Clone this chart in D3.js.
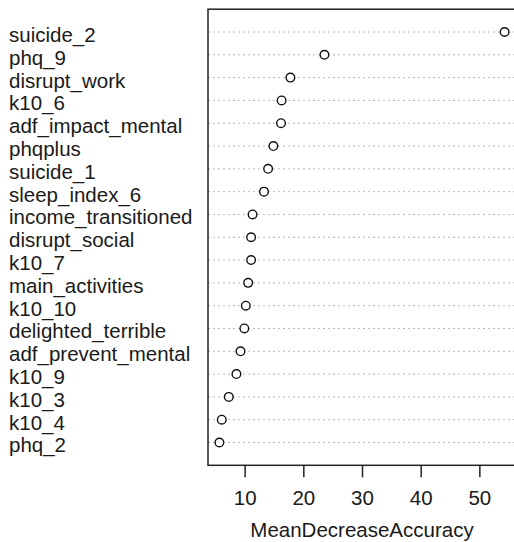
<!DOCTYPE html>
<html>
<head>
<meta charset="utf-8">
<script src="https://cdn.jsdelivr.net/npm/d3@7"></script>
<style>
  body { margin: 0; background: #fff; }
  svg { display: block; font-family: "Liberation Sans", Arial, sans-serif; }
</style>
</head>
<body>
<div id="chart"></div>
<script>
// variable names, top to bottom
const variables = [
  "suicide_2", "phq_9", "disrupt_work", "k10_6", "adf_impact_mental",
  "phqplus", "suicide_1", "sleep_index_6", "income_transitioned", "disrupt_social",
  "k10_7", "main_activities", "k10_10", "delighted_terrible", "adf_prevent_mental",
  "k10_9", "k10_3", "k10_4", "phq_2"
];
const accuracy = [
  54.3, 23.6, 17.8, 16.3, 16.2,
  14.9, 14.0, 13.3, 11.35, 11.1,
  11.1, 10.6, 10.2, 9.95, 9.3,
  8.6, 7.3, 6.1, 5.7
];
const xTicks = [10, 20, 30, 40, 50];
const xTitle = "MeanDecreaseAccuracy";

const width = 514, height = 542;
const plot = {left: 208, right: 516, top: 9.2, bottom: 465.3};
const fontSize = 20.5;

const svg = d3.select("#chart").append("svg")
  .attr("width", width)
  .attr("height", height);

// R dotchart: xlim extended 4%, ylim 0..n+1
const lo = d3.min(accuracy), hi = d3.max(accuracy);
const pad = (hi - lo) * 0.04;
const x = d3.scaleLinear().domain([lo - pad, hi + pad]).range([plot.left, plot.right]);
const n = variables.length;
const y = d3.scaleLinear().domain([0, n + 1]).range([plot.bottom, plot.top]);

const rows = variables.map((name, i) => ({name: name, value: accuracy[i], pos: n - i}));

// dotted guide lines
svg.append("g").selectAll("line")
  .data(rows)
  .join("line")
  .attr("x1", plot.left)
  .attr("x2", plot.right)
  .attr("y1", d => y(d.pos))
  .attr("y2", d => y(d.pos))
  .attr("stroke", "#b8b8b8")
  .attr("stroke-width", 1)
  .attr("stroke-dasharray", "2,3");

// points
svg.append("g").selectAll("circle")
  .data(rows)
  .join("circle")
  .attr("cx", d => x(d.value))
  .attr("cy", d => y(d.pos))
  .attr("r", 4.3)
  .attr("fill", "white")
  .attr("stroke", "#111")
  .attr("stroke-width", 1.4);

// labels
svg.append("g").selectAll("text")
  .data(rows)
  .join("text")
  .attr("x", 9)
  .attr("y", d => y(d.pos) + 10)
  .attr("font-size", fontSize)
  .attr("fill", "#1a1a1a")
  .text(d => d.name);

// box
svg.append("rect")
  .attr("x", plot.left)
  .attr("y", plot.top)
  .attr("width", plot.right - plot.left)
  .attr("height", plot.bottom - plot.top)
  .attr("fill", "none")
  .attr("stroke", "#222")
  .attr("stroke-width", 1.5);

// x axis
const axis = svg.append("g")
  .attr("transform", "translate(0," + plot.bottom + ")")
  .call(d3.axisBottom(x).tickValues(xTicks).tickSize(12).tickPadding(13).tickFormat(d3.format("d")));
axis.select(".domain").remove();
axis.selectAll(".tick line").attr("stroke", "#222").attr("stroke-width", 1.5);
axis.selectAll(".tick text")
  .attr("font-size", fontSize)
  .attr("font-family", "Liberation Sans, Arial, sans-serif")
  .attr("fill", "#1a1a1a");

svg.append("text")
  .attr("x", (plot.left + plot.right) / 2)
  .attr("y", 536.5)
  .attr("text-anchor", "middle")
  .attr("font-size", fontSize)
  .attr("fill", "#1a1a1a")
  .text(xTitle);
</script>
</body>
</html>
